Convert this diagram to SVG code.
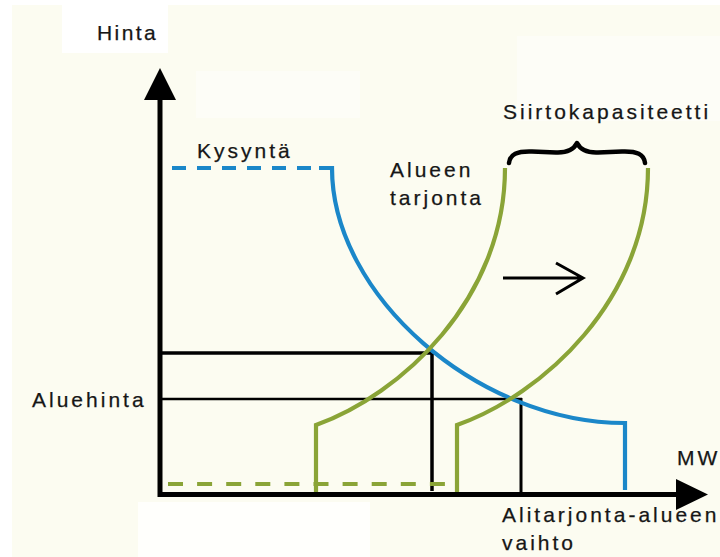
<svg xmlns="http://www.w3.org/2000/svg" width="720" height="557" viewBox="0 0 720 557">
  <style>
    .lbl { font-family: "Liberation Sans", Arial, sans-serif; font-size: 21px; fill: #161616; stroke: #161616; stroke-width: 0.25; letter-spacing: 3px; }
    .axis { stroke: #000; stroke-width: 5; fill: none; }
    .guide { stroke: #000; fill: none; }
    .demand { stroke: #1b87c9; stroke-width: 4.2; fill: none; }
    .supply { stroke: #8aa437; stroke-width: 4.2; fill: none; }
    .patch { fill: #ffffff; }
  </style>

  <!-- paper -->
  <rect x="0" y="0" width="720" height="557" fill="#ffffff"/>
  <rect x="12" y="5" width="708" height="552" fill="#fcfcf1"/>
  <g id="patches">
    <rect class="patch" x="62" y="5" width="106" height="48"/>
    <rect class="patch" x="196" y="71" width="164" height="47" opacity="0.45"/>
    <rect class="patch" x="517" y="36" width="203" height="85" opacity="0.45"/>
    <rect class="patch" x="138" y="502" width="232" height="55" opacity="0.8"/>
  </g>

  <!-- axes -->
  <g id="axes">
    <line class="axis" x1="160" y1="497" x2="160" y2="95"/>
    <polygon points="160,68 176,100 144,100" fill="#000"/>
    <line class="axis" x1="158" y1="494.5" x2="680" y2="494.5"/>
    <polygon points="708,494.5 676,479 676,510" fill="#000"/>
  </g>

  <!-- equilibrium guide lines -->
  <g id="guides">
    <line class="guide" stroke-width="3.5" x1="158" y1="353" x2="434" y2="353"/>
    <line class="guide" stroke-width="3.5" x1="432" y1="351.5" x2="432" y2="491"/>
    <line class="guide" stroke-width="2.5" x1="158" y1="399" x2="522" y2="399"/>
    <line class="guide" stroke-width="3" x1="521" y1="398" x2="521" y2="494"/>
  </g>

  <!-- demand curve -->
  <g id="demand">
    <line class="demand" x1="172" y1="168" x2="320" y2="168" stroke-dasharray="14 11"/>
    <path class="demand" d="M319,168 H332 C332,295.5 478,423 625,423 V490"/>
  </g>

  <!-- supply curves -->
  <g id="supply">
    <line class="supply" x1="168" y1="484" x2="445" y2="484" stroke-dasharray="15 14.1"/>
    <path class="supply" d="M316,492 V425 C400,395 505,300 505,168"/>
    <path class="supply" d="M457,492 V425 C542,395 648,300 648,168"/>
  </g>

  <!-- transfer capacity brace and shift arrow -->
  <g id="brace">
    <path d="M509,163 C510,154 517,151 532,151.5 L556,152.5 C568,153 574,149 577,143 C580,149 586,153 598,152.5 L622,151.5 C637,151 644,154 645,163" fill="none" stroke="#000" stroke-width="4.5" stroke-linecap="round" stroke-linejoin="round"/>
  </g>
  <g id="shift">
    <path d="M503,278 H583 M556,263 L583,278 L556,294" fill="none" stroke="#000" stroke-width="3"/>
  </g>

  <!-- labels -->
  <g id="labels">
    <text class="lbl" x="97" y="40" style="letter-spacing:2.4px">Hinta</text>
    <text class="lbl" x="197" y="158">Kysyntä</text>
    <text class="lbl" x="503" y="119">Siirtokapasiteetti</text>
    <text class="lbl" x="390" y="177">Alueen</text>
    <text class="lbl" x="390" y="205">tarjonta</text>
    <text class="lbl" x="32" y="407">Aluehinta</text>
    <text class="lbl" x="677" y="465">MW</text>
    <text class="lbl" x="502" y="522">Alitarjonta-alueen</text>
    <text class="lbl" x="502" y="550">vaihto</text>
  </g>
</svg>
